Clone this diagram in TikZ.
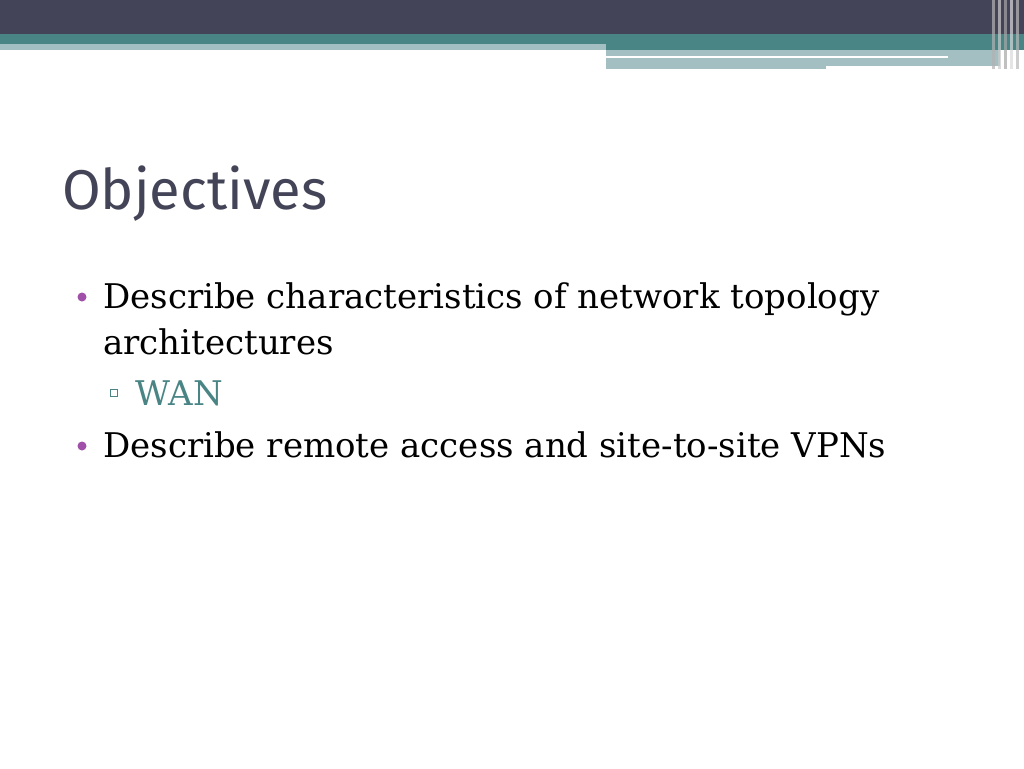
\documentclass[tikz,border=0pt]{standalone}
\usepackage{fontspec}
\setmainfont{DejaVu Serif}
\newfontfamily\titlefont{Fira Sans}
\definecolor{dark}{HTML}{444458}
\definecolor{teal}{HTML}{4A8585}
\definecolor{lteal}{HTML}{A3BFC2}
\definecolor{bul}{HTML}{A050A8}
\begin{document}
\begin{tikzpicture}[x=1pt,y=-1pt,
  body/.style={anchor=base west,inner sep=0,font=\fontsize{34}{40}\selectfont}]
\useasboundingbox (0,0) rectangle (1024,768);
\fill[white] (0,0) rectangle (1024,768);
\fill[dark] (0,0) rectangle (1024,34);
\fill[teal] (0,34) rectangle (1024,44);
\fill[lteal] (0,44) rectangle (606,50);
\fill[teal] (606,44) rectangle (1024,50);
\fill[lteal] (606,50) rectangle (1000,69);
\fill[white] (606,56) rectangle (948,58);
\fill[white] (826,66) rectangle (1000,69);
\foreach \x/\c in {992/gray!60,998/gray!40,1004/gray!70,1010/gray!30,1016/gray!55}
  \fill[\c,opacity=0.7] (\x,0) rectangle (\x+3,69);
\node[anchor=base west,inner sep=0,text=dark,font=\titlefont\fontsize{56}{64}\selectfont] (title) at (62,209) {Objectives};
\fill[bul] (82,297) circle (4.5);
\node[body] (l1) at (103,308) {Describe characteristics of network topology};
\node[body] (l2) at (103,354) {architectures};
\draw[teal,line width=0.8] (110,389) rectangle (117,396);
\node[body,text=teal] (l3) at (135,405) {WAN};
\fill[bul] (82,446) circle (4.5);
\node[body] (l4) at (103,457) {Describe remote access and site-to-site VPNs};
\end{tikzpicture}
\end{document}
